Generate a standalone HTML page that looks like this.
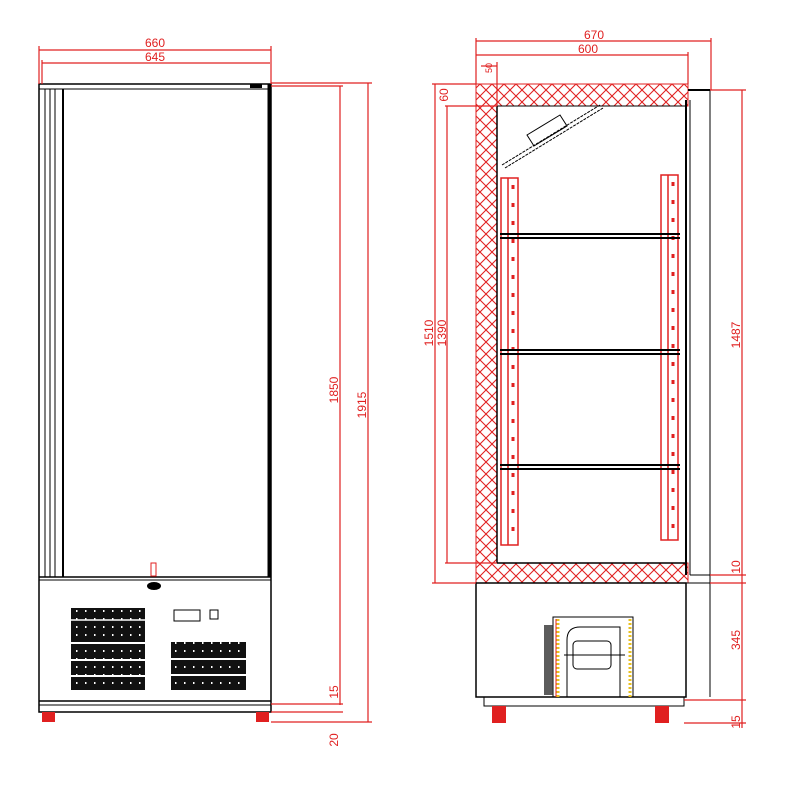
<!DOCTYPE html>
<html><head><style>html,body{margin:0;padding:0;background:#fff}svg{display:block}</style></head><body>
<svg width="800" height="800" viewBox="0 0 800 800" xmlns="http://www.w3.org/2000/svg" font-family="Liberation Sans, sans-serif">
<defs>
<pattern id="h" width="12" height="12" patternUnits="userSpaceOnUse">
<path d="M0,0 L12,12 M12,0 L0,12" stroke="#e02020" stroke-width="1.1"/>
</pattern>
<pattern id="v" width="9" height="8" patternUnits="userSpaceOnUse">
<rect width="9" height="8" fill="#111"/>
<rect x="4" y="2" width="1.5" height="2" fill="#fff"/>
</pattern>
</defs>
<rect width="800" height="800" fill="#fff"/>
<!-- FRONT VIEW -->
<g fill="none" stroke="#000">
<rect x="39" y="84" width="232" height="628" stroke-width="1.5"/>
<line x1="39" y1="89" x2="271" y2="89"/>
<line x1="45" y1="89" x2="45" y2="577"/>
<line x1="50" y1="89" x2="50" y2="577"/>
<line x1="55" y1="89" x2="55" y2="577"/>
<line x1="63" y1="89" x2="63" y2="577" stroke-width="2"/>
<line x1="269" y1="84" x2="269" y2="577" stroke-width="3"/>
<line x1="39" y1="577" x2="271" y2="577" stroke-width="1.5"/>
<line x1="39" y1="580" x2="271" y2="580"/>
<line x1="39" y1="701" x2="271" y2="701" stroke-width="1.5"/>
<line x1="39" y1="705" x2="271" y2="705"/>
<rect x="174" y="610" width="26" height="11"/>
<rect x="210" y="610" width="8" height="9"/>
</g>
<rect x="250" y="84" width="12" height="4" fill="#000"/>
<rect x="151" y="563" width="5" height="13" fill="none" stroke="#e02020"/>
<ellipse cx="154" cy="586" rx="7" ry="4" fill="#000"/>
<rect x="71" y="608" width="74" height="82" fill="url(#v)"/>
<line x1="71" y1="620" x2="145" y2="620" stroke="#fff" stroke-width="1.5"/>
<line x1="71" y1="643" x2="145" y2="643" stroke="#fff" stroke-width="2"/>
<line x1="71" y1="660" x2="145" y2="660" stroke="#fff" stroke-width="2"/>
<line x1="71" y1="676" x2="145" y2="676" stroke="#fff" stroke-width="2"/>
<rect x="171" y="642" width="75" height="48" fill="url(#v)"/>
<line x1="171" y1="659" x2="246" y2="659" stroke="#fff" stroke-width="2"/>
<line x1="171" y1="675" x2="246" y2="675" stroke="#fff" stroke-width="2"/>
<rect x="42" y="712" width="13" height="10" fill="#e02020"/>
<rect x="256" y="712" width="13" height="10" fill="#e02020"/>
<!-- front dims -->
<g stroke="#e02020" fill="none" stroke-width="1.2">
<line x1="39" y1="50" x2="271" y2="50"/>
<line x1="42" y1="63" x2="270" y2="63"/>
<line x1="39" y1="46" x2="39" y2="84"/>
<line x1="271" y1="46" x2="271" y2="84"/>
<line x1="42" y1="60" x2="42" y2="84"/>
<line x1="271" y1="83" x2="372" y2="83"/>
<line x1="271" y1="86" x2="343" y2="86"/>
<line x1="340" y1="86" x2="340" y2="705"/>
<line x1="368" y1="83" x2="368" y2="722"/>
<line x1="271" y1="704" x2="343" y2="704"/>
<line x1="271" y1="712" x2="343" y2="712"/>
<line x1="271" y1="722" x2="372" y2="722"/>
</g>
<g fill="#e02020" font-size="12">
<text x="155" y="47" text-anchor="middle">660</text>
<text x="155" y="61" text-anchor="middle">645</text>
<text transform="translate(338,390) rotate(-90)" text-anchor="middle">1850</text>
<text transform="translate(366,405) rotate(-90)" text-anchor="middle">1915</text>
<text transform="translate(338,692) rotate(-90)" text-anchor="middle">15</text>
<text transform="translate(338,740) rotate(-90)" text-anchor="middle">20</text>
</g>
<!-- SIDE VIEW -->
<rect x="476" y="84" width="212" height="22" fill="url(#h)" stroke="#e02020"/>
<rect x="476" y="106" width="21" height="457" fill="url(#h)" stroke="#e02020"/>
<rect x="476" y="563" width="212" height="20" fill="url(#h)" stroke="#e02020"/>
<g fill="none" stroke="#000">
<line x1="497" y1="106" x2="497" y2="563" stroke-width="1.5"/>
<line x1="497" y1="106" x2="686" y2="106"/>
<line x1="497" y1="563" x2="686" y2="563" stroke-width="1.5"/>
<line x1="686" y1="100" x2="686" y2="575" stroke-width="2"/>
<line x1="690" y1="100" x2="690" y2="575"/>
<line x1="710" y1="90" x2="710" y2="697"/>
<line x1="690" y1="575" x2="710" y2="575"/>
<line x1="688" y1="90" x2="710" y2="90" stroke-width="2"/>
<rect x="476" y="583" width="210" height="114" stroke-width="1.5"/>
<line x1="686" y1="583" x2="710" y2="583"/>
<rect x="484" y="697" width="200" height="9"/>
<line x1="502" y1="165" x2="600" y2="105" stroke-dasharray="3,1"/>
<line x1="505" y1="168" x2="603" y2="108" stroke-dasharray="3,1"/>
<polygon points="527,135 560,115 567,126 534,146"/>
<rect x="553" y="617" width="80" height="80"/>
<path d="M567,697 V640 Q567,627 580,627 H620 V697"/>
<rect x="573" y="641" width="38" height="28" rx="4"/>
<line x1="564" y1="655" x2="625" y2="655"/>
</g>
<rect x="544" y="625" width="9" height="70" fill="#333" opacity="0.8"/>
<line x1="558" y1="619" x2="558" y2="697" stroke="#e8c020" stroke-width="3" stroke-dasharray="2,2"/>
<line x1="630" y1="619" x2="630" y2="697" stroke="#e8c020" stroke-width="3" stroke-dasharray="2,2"/>
<line x1="556" y1="619" x2="556" y2="697" stroke="#e02020"/>
<!-- rails -->
<g fill="none" stroke="#e02020" stroke-width="1.5">
<rect x="501" y="178" width="17" height="367"/>
<line x1="508" y1="178" x2="508" y2="545"/>
<rect x="661" y="175" width="17" height="365"/>
<line x1="668" y1="175" x2="668" y2="540"/>
</g>
<g stroke="#e02020" stroke-width="3" stroke-dasharray="4,14">
<line x1="513" y1="185" x2="513" y2="540"/>
<line x1="673" y1="182" x2="673" y2="535"/>
</g>
<g stroke="#000" stroke-width="2">
<line x1="500" y1="234" x2="680" y2="234"/><line x1="500" y1="238" x2="680" y2="238"/>
<line x1="500" y1="350" x2="680" y2="350"/><line x1="500" y1="354" x2="680" y2="354"/>
<line x1="500" y1="465" x2="680" y2="465"/><line x1="500" y1="469" x2="680" y2="469"/>
</g>
<rect x="492" y="706" width="14" height="17" fill="#e02020"/>
<rect x="655" y="706" width="14" height="17" fill="#e02020"/>
<!-- side dims -->
<g stroke="#e02020" fill="none" stroke-width="1.2">
<line x1="476" y1="41" x2="711" y2="41"/>
<line x1="476" y1="55" x2="688" y2="55"/>
<line x1="476" y1="38" x2="476" y2="84"/>
<line x1="711" y1="38" x2="711" y2="90"/>
<line x1="688" y1="52" x2="688" y2="84"/>
<line x1="497" y1="62" x2="497" y2="106"/>
<line x1="481" y1="66" x2="497" y2="66"/>
<line x1="432" y1="84" x2="476" y2="84"/>
<line x1="445" y1="106" x2="497" y2="106"/>
<line x1="435" y1="84" x2="435" y2="583"/>
<line x1="447" y1="106" x2="447" y2="563"/>
<line x1="432" y1="583" x2="476" y2="583"/>
<line x1="445" y1="563" x2="497" y2="563"/>
<line x1="710" y1="90" x2="746" y2="90"/>
<line x1="742" y1="90" x2="742" y2="728"/>
<line x1="710" y1="575" x2="746" y2="575"/>
<line x1="710" y1="583" x2="746" y2="583"/>
<line x1="684" y1="700" x2="746" y2="700"/>
<line x1="684" y1="723" x2="746" y2="723"/>
</g>
<g fill="#e02020" font-size="12">
<text x="594" y="39" text-anchor="middle">670</text>
<text x="588" y="53" text-anchor="middle">600</text>
<text transform="translate(492,68) rotate(-90)" text-anchor="middle" font-size="9">50</text>
<text transform="translate(448,95) rotate(-90)" text-anchor="middle">60</text>
<text transform="translate(433,333) rotate(-90)" text-anchor="middle">1510</text>
<text transform="translate(446,333) rotate(-90)" text-anchor="middle">1390</text>
<text transform="translate(740,335) rotate(-90)" text-anchor="middle">1487</text>
<text transform="translate(740,567) rotate(-90)" text-anchor="middle">10</text>
<text transform="translate(740,640) rotate(-90)" text-anchor="middle">345</text>
<text transform="translate(740,722) rotate(-90)" text-anchor="middle">15</text>
</g>
</svg>
</body></html>
